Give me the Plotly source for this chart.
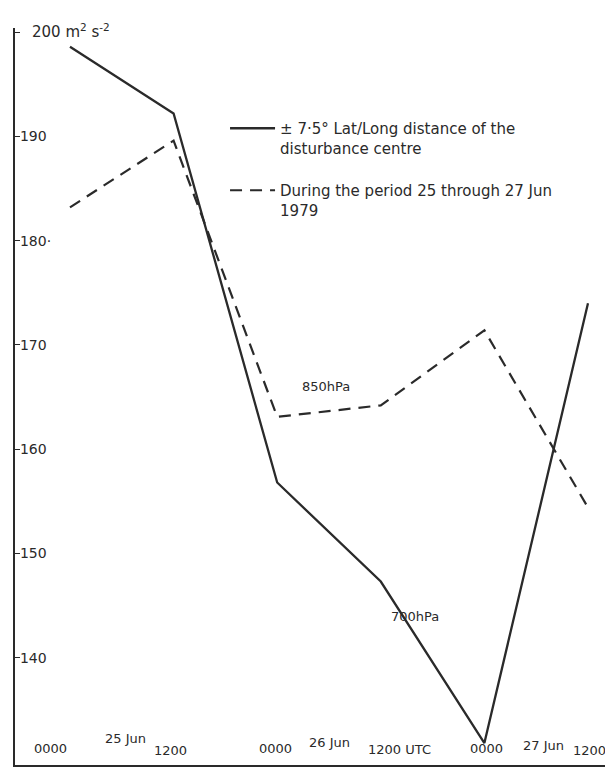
import plotly.graph_objects as go

# hours from 0000 UTC 25 Jun 1979
hours = [0, 12, 24, 36, 48, 60]
vals_700 = [198.6, 192.2, 156.8, 147.3, 131.8, 174.0]
vals_850 = [183.2, 189.6, 163.1, 164.2, 171.4, 154.4]

y_tickvals = [140, 150, 160, 170, 180, 190, 200]
y_ticktext = ["140", "150", "160", "170", "180·", "190", ""]
y_top_label = "200 m<sup>2</sup> s<sup>-2</sup>"

x_label_pos = [-2.3, 11.6, 23.8, 38.2, 48.3, 60.2]
x_label_text = ["0000", "1200", "0000", "1200 UTC", "0000", "1200"]
x_label_y = [131.3, 131.1, 131.3, 131.2, 131.3, 131.1]

date_pos = [6.4, 30.1, 54.8]
date_text = ["25 Jun", "26 Jun", "27 Jun"]
date_y = [132.2, 131.9, 131.6]

name_700 = "± 7·5° Lat/Long distance of the<br>disturbance centre"
name_850 = "During the period 25 through 27 Jun<br>1979"

ink = "#2a2a2a"
font = "DejaVu Sans"

fig = go.Figure()
fig.add_trace(go.Scatter(x=hours, y=vals_700, mode="lines", name=name_700,
                         line=dict(color=ink, width=2.3), legendgroup="a"))
fig.add_trace(go.Scatter(x=hours, y=vals_850, mode="lines", name=name_850,
                         line=dict(color=ink, width=2.2, dash="12px,8px"), legendgroup="b"))

for xp, yp, t in zip(x_label_pos, x_label_y, x_label_text):
    fig.add_annotation(x=xp, y=yp, text=t, showarrow=False,
                       font=dict(family=font, size=13, color=ink))
for xp, yp, t in zip(date_pos, date_y, date_text):
    fig.add_annotation(x=xp, y=yp, text=t, showarrow=False,
                       font=dict(family=font, size=13, color=ink))

fig.add_annotation(x=29.6, y=166.0, text="850hPa", showarrow=False,
                   font=dict(family=font, size=13, color=ink))
fig.add_annotation(x=40.0, y=143.9, text="700hPa", showarrow=False,
                   font=dict(family=font, size=13, color=ink))
fig.add_annotation(x=-4.6, y=200.1, text=y_top_label, showarrow=False,
                   xanchor="left", yanchor="middle",
                   font=dict(family=font, size=15, color=ink))

fig.update_layout(
    width=605, height=761,
    margin=dict(l=7, r=8, t=20, b=4),
    paper_bgcolor="white", plot_bgcolor="white",
    font=dict(family=font, size=14, color=ink),
    legend=dict(x=0.356, y=0.886, xanchor="left", yanchor="top",
                bgcolor="rgba(0,0,0,0)", valign="top", itemwidth=45,
                traceorder="grouped", tracegroupgap=20,
                font=dict(family=font, size=15, color=ink)),
    xaxis=dict(range=[-6.37, 61.97], showgrid=False, zeroline=False,
               showline=True, linecolor=ink, linewidth=1.5,
               showticklabels=False, ticks=""),
    yaxis=dict(range=[129.7, 200.4], showgrid=False, zeroline=False,
               showline=True, linecolor=ink, linewidth=1.5,
               tickvals=y_tickvals, ticktext=y_ticktext, ticks="inside", ticklen=5,
               tickcolor=ink, ticklabelposition="inside",
               tickfont=dict(family=font, size=14, color=ink)),
)

fig.write_html("out.html")
